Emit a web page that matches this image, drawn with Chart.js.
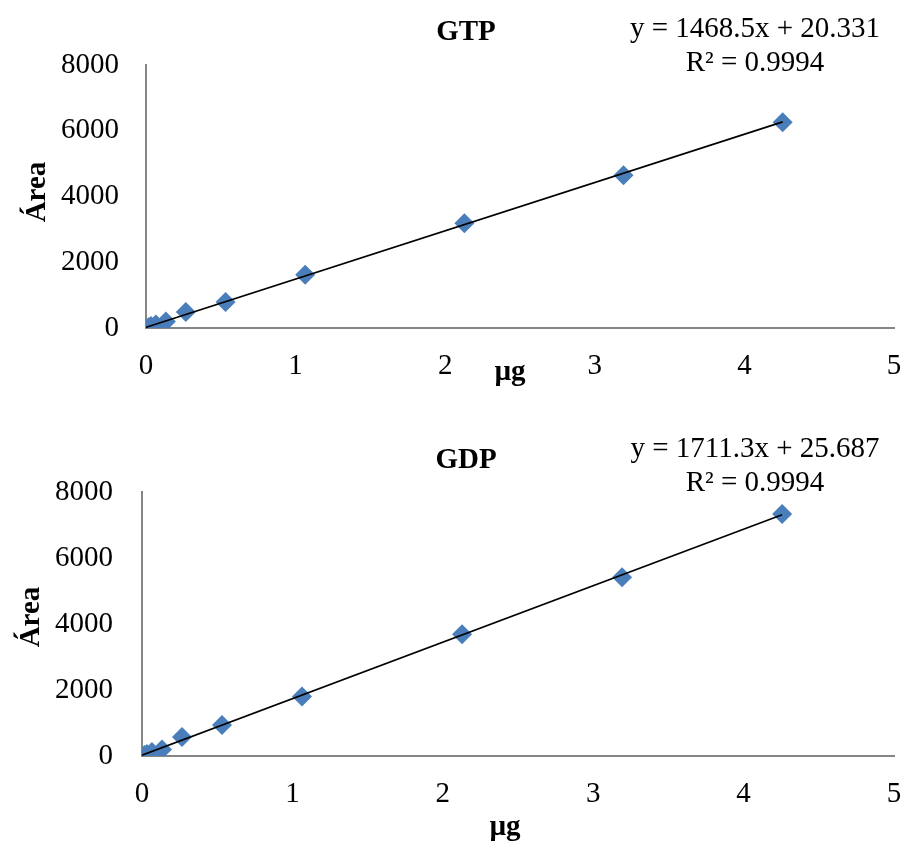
<!DOCTYPE html>
<html>
<head>
<meta charset="utf-8">
<script src="https://cdn.jsdelivr.net/npm/chart.js@4"></script>
<style>
    html, body { margin: 0; padding: 0; background: #fff; }
    .box { width: 907px; height: 423px; position: relative; }
</style>
</head>
<body>
<div class="box"><canvas id="gtpChart"></canvas></div>
<div class="box"><canvas id="gdpChart"></canvas></div>
<script>
// Amounts injected (µg), same for both standards
const amounts = [0.0166, 0.033, 0.066, 0.133, 0.266, 0.532, 1.064, 2.128, 3.192, 4.256];

// Peak areas
const gtpArea = [25, 60, 110, 200, 490, 790, 1620, 3190, 4650, 6260];
const gdpArea = [30, 60, 120, 200, 575, 940, 1800, 3690, 5420, 7330];

// Excel trendline fits shown on the chart
const gtpFit = { slope: 1468.5, intercept: 20.331, r2: '0.9994' };
const gdpFit = { slope: 1711.3, intercept: 25.687, r2: '0.9994' };

const xTicks = [0, 1, 2, 3, 4, 5];
const yTicks = [0, 2000, 4000, 6000, 8000];

const FONT = "'Liberation Serif', 'Times New Roman', serif";
const BLUE = '#4a7ebb';
const AXIS = '#868686';

// Draws title, equation box and axis titles at fixed spots
const textPlugin = {
    id: 'texts',
    afterDraw(chart, args, opts) {
        const ctx = chart.ctx;
        ctx.save();
        ctx.fillStyle = '#000';
        ctx.textAlign = 'center';
        ctx.textBaseline = 'middle';

        ctx.font = 'bold 29px ' + FONT;
        ctx.fillText(opts.title, opts.titleX, opts.titleY);
        ctx.fillText('µg', opts.xTitleX, opts.xTitleY);

        ctx.font = '29px ' + FONT;
        ctx.fillText(opts.eq, opts.eqX, opts.eqY);
        ctx.fillText(opts.r2, opts.eqX, opts.eqY + 34);

        ctx.translate(opts.yTitleX, opts.yTitleY);
        ctx.rotate(-Math.PI / 2);
        ctx.font = 'bold 29px ' + FONT;
        ctx.fillText('Área', 0, 0);
        ctx.restore();
    }
};

function makeChart(id, area, fit, name, layout) {
    const lastX = amounts[amounts.length - 1];
    const fitLine = [
        { x: 0, y: fit.intercept },
        { x: lastX, y: fit.slope * lastX + fit.intercept }
    ];
    const sign = fit.intercept >= 0 ? ' + ' : ' - ';

    return new Chart(document.getElementById(id), {
        type: 'scatter',
        data: {
            datasets: [{
                label: name,
                data: amounts.map((x, i) => ({ x: x, y: area[i] })),
                pointStyle: 'rectRot',
                pointRadius: 10,
                backgroundColor: BLUE,
                borderColor: BLUE,
                borderWidth: 0,
                order: 2
            }, {
                label: 'Linear (' + name + ')',
                type: 'line',
                data: fitLine,
                borderColor: '#000',
                borderWidth: 1.6,
                pointRadius: 0,
                fill: false,
                order: 1
            }]
        },
        options: {
            responsive: true,
            maintainAspectRatio: false,
            animation: false,
            layout: { padding: layout.padding },
            plugins: {
                legend: { display: false },
                tooltip: { enabled: false },
                texts: {
                    title: name,
                    titleX: 466, titleY: layout.titleY,
                    eq: 'y = ' + fit.slope + 'x' + sign + Math.abs(fit.intercept),
                    r2: 'R² = ' + fit.r2,
                    eqX: 755, eqY: layout.eqY,
                    xTitleX: layout.xTitleX, xTitleY: layout.xTitleY,
                    yTitleX: layout.yTitleX, yTitleY: layout.yTitleY
                }
            },
            scales: {
                x: {
                    type: 'linear',
                    min: 0, max: 5,
                    afterBuildTicks: s => { s.ticks = xTicks.map(v => ({ value: v })); },
                    afterFit: s => {
                        s.height = 60;
                        s.paddingLeft = 0;
                        s.paddingRight = 0;
                    },
                    grid: { display: false, drawTicks: false },
                    border: { color: AXIS, width: 2 },
                    ticks: { color: '#000', font: { family: FONT, size: 29 }, padding: layout.xPad }
                },
                y: {
                    min: 0, max: 8000,
                    afterBuildTicks: s => { s.ticks = yTicks.map(v => ({ value: v })); },
                    afterFit: s => { s.width = layout.yWidth; },
                    grid: { display: false, drawTicks: false },
                    border: { color: AXIS, width: 2 },
                    ticks: {
                        color: '#000',
                        font: { family: FONT, size: 29 },
                        padding: layout.yPad,
                        callback: v => String(v)
                    }
                }
            }
        },
        plugins: [textPlugin]
    });
}

makeChart('gtpChart', gtpArea, gtpFit, 'GTP', {
    padding: { top: 65, right: 13, bottom: 35, left: 0 },
    yWidth: 146, yPad: 27, xPad: 21,
    titleY: 33, eqY: 29,
    xTitleX: 510, xTitleY: 373,
    yTitleX: 38, yTitleY: 192
});

makeChart('gdpChart', gdpArea, gdpFit, 'GDP', {
    padding: { top: 69, right: 13, bottom: 30, left: 0 },
    yWidth: 142, yPad: 29, xPad: 21,
    titleY: 38, eqY: 26,
    xTitleX: 505, xTitleY: 405,
    yTitleX: 32, yTitleY: 194
});
</script>
</body>
</html>
